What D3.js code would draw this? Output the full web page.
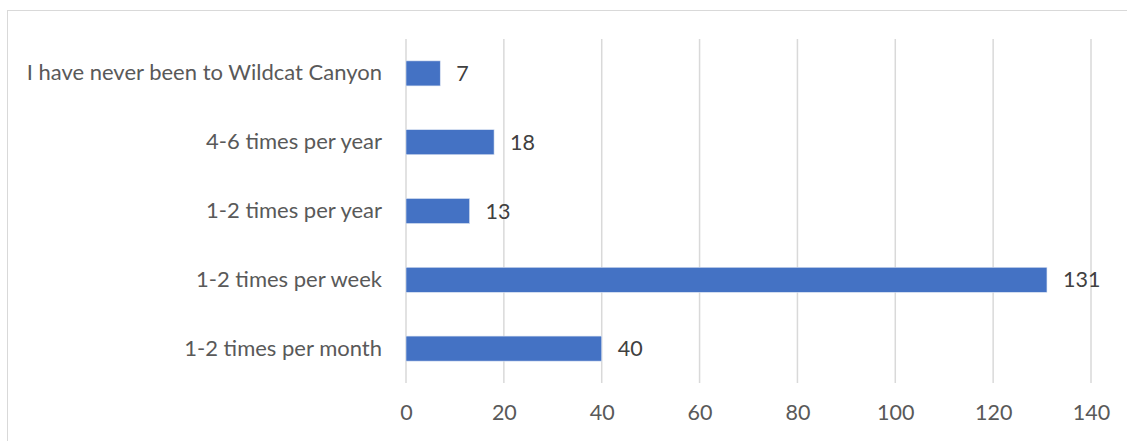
<html>
<head>
  <style>
    body { margin: 0; background: #fff; }
    svg text { font-family: Lato, "Open Sans", sans-serif; }
    .grid line { stroke: #d9d9d9; stroke-width: 1.5px; }
    .tick text { fill: #595959; font-size: 21.5px; }
    .cats .tick text { font-size: 22px; }
  </style>
</head>
<body>
  <div id="chart"></div>
  <script src="https://d3js.org/d3.v7.min.js"></script>
  <script>
  // data, top to bottom as drawn
  var categories = [
    "I have never been to Wildcat Canyon",
    "4-6 times per year",
    "1-2 times per year",
    "1-2 times per week",
    "1-2 times per month"
  ];
  var counts = [7, 18, 13, 131, 40];
  var xTicks = [0, 20, 40, 60, 80, 100, 120, 140];

  var W = 1127, H = 441;
  var plot = { left: 406, right: 1091, top: 39, bottom: 383 };

  var svg = d3.select("#chart").append("svg")
      .attr("width", W)
      .attr("height", H);

  // chart frame (runs off the right and bottom of the picture)
  svg.append("rect")
      .attr("x", 7.5).attr("y", 10.5)
      .attr("width", W).attr("height", H)
      .style("fill", "none")
      .style("stroke", "#d9d9d9")
      .style("stroke-width", "1px");

  var x = d3.scaleLinear().domain([0, 140]).range([plot.left, plot.right]);
  var y = d3.scaleBand().domain(categories).range([plot.top, plot.bottom]).paddingInner(0.636).paddingOuter(0.318);

  // vertical gridlines
  svg.append("g").classed("grid", true)
    .selectAll("line")
    .data(xTicks)
    .join("line")
      .attr("x1", function (d) { return x(d); })
      .attr("x2", function (d) { return x(d); })
      .attr("y1", plot.top)
      .attr("y2", plot.bottom);

  // x axis labels only
  var xAxis = d3.axisBottom(x).tickValues(xTicks).tickSize(0).tickPadding(22);
  svg.append("g")
      .attr("transform", "translate(0," + plot.bottom + ")")
      .call(xAxis)
      .call(function (g) { g.select(".domain").remove(); });

  // category labels
  var yAxis = d3.axisLeft(y).tickSize(0).tickPadding(24);
  svg.append("g").classed("cats", true)
      .attr("transform", "translate(" + plot.left + ",0)")
      .call(yAxis)
      .call(function (g) { g.select(".domain").remove(); });

  // bars
  svg.append("g").selectAll("rect")
    .data(categories)
    .join("rect")
      .attr("x", x(0))
      .attr("y", function (d) { return y(d); })
      .attr("width", function (d, i) { return x(counts[i]) - x(0); })
      .attr("height", y.bandwidth())
      .style("fill", "#4472c4")
      .style("stroke", "#dce4f2")
      .style("stroke-width", "0.6px");

  // value labels
  svg.append("g").selectAll("text")
    .data(categories)
    .join("text")
      .attr("x", function (d, i) { return x(counts[i]) + 16; })
      .attr("y", function (d) { return y(d) + y.bandwidth() / 2; })
      .attr("dy", "0.35em")
      .text(function (d, i) { return counts[i]; })
      .style("fill", "#404040")
      .style("font-size", "21.5px");
  </script>
</body>
</html>
